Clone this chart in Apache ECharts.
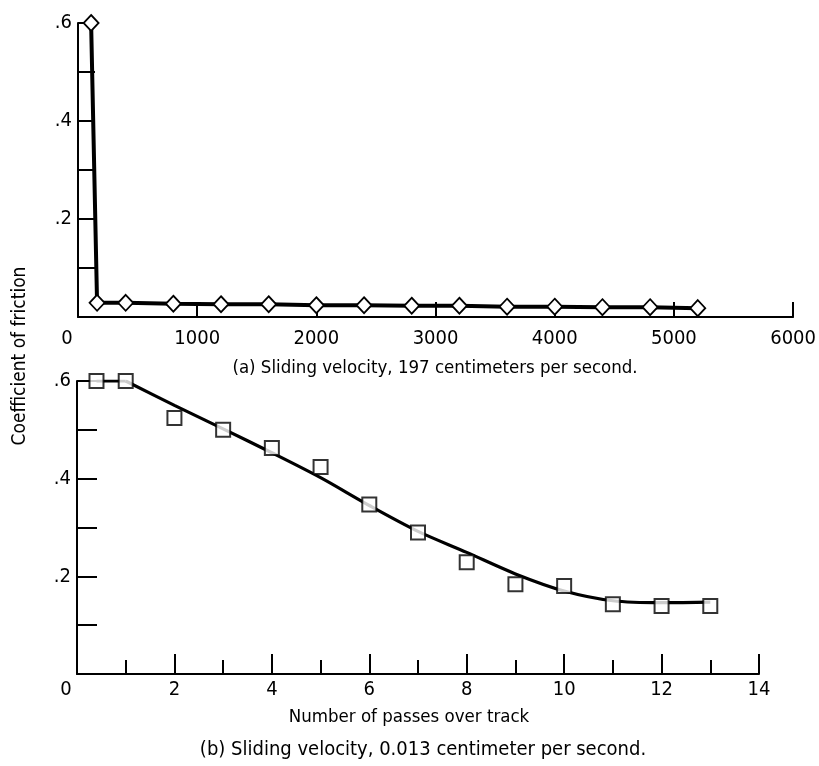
<!DOCTYPE html>
<html>
<head>
<meta charset="utf-8">
<script src="https://cdn.jsdelivr.net/npm/echarts@6/dist/echarts.min.js"></script>
<style>
  html, body { margin: 0; background: #fff; }
  #chart { width: 819px; height: 766px; }
</style>
</head>
<body>
<div id="chart"></div>
<script>
// (a) sliding velocity 197 cm/s
const speedX = [110, 160, 400, 800, 1200, 1600, 2000, 2400, 2800, 3200, 3600, 4000, 4400, 4800, 5200];
const speedMu = [0.6, 0.029, 0.029, 0.027, 0.026, 0.026, 0.024, 0.024, 0.023, 0.023, 0.021, 0.021, 0.02, 0.02, 0.018];

// (b) sliding velocity 0.013 cm/s, measured points
const passX = [0.4, 1, 2, 3, 4, 5, 6, 7, 8, 9, 10, 11, 12, 13];
const passMu = [0.6, 0.6, 0.524, 0.5, 0.463, 0.424, 0.347, 0.29, 0.229, 0.184, 0.18, 0.143, 0.139, 0.139];
// faired curve: flat start, then the smooth fall
const flatX = [0.4, 1];
const flatMu = [0.6, 0.6];
const fitX = [1, 2, 3, 4, 5, 6, 7, 8, 9, 10, 11, 12, 13];
const fitMu = [0.6, 0.55, 0.502, 0.453, 0.402, 0.345, 0.292, 0.249, 0.205, 0.17, 0.15, 0.146, 0.147];

const muLabels = ["", "", ".2", "", ".4", "", ".6"];

const FONT = '"Liberation Sans Narrow", "DejaVu Sans Condensed", "Roboto Condensed", "Liberation Sans", sans-serif';
const INK = "#000";

const zip = (xs, ys) => xs.map((x, i) => [x, ys[i]]);

const xLabel = (margin) => ({
  color: INK, fontFamily: FONT, fontSize: 20, margin,
  formatter: (v) => (v === 0 ? "{z|0}" : String(v)),
  rich: { z: { color: INK, fontFamily: FONT, fontSize: 20, padding: [0, 22, 0, 0] } },
});

const yAxis = (idx, tickLen) => ({
  type: "value", gridIndex: idx, min: 0, max: 0.6, interval: 0.1,
  axisLine: { show: true, lineStyle: { color: INK, width: 2 } },
  axisTick: { show: true, inside: true, length: tickLen, lineStyle: { color: INK, width: 2 } },
  splitLine: { show: false },
  axisLabel: {
    color: INK, fontFamily: FONT, fontSize: 20, margin: 6,
    formatter: (v) => muLabels[Math.round(v * 10)] || "",
  },
});

const fitLine = (data, smooth) => ({
  type: "line", xAxisIndex: 1, yAxisIndex: 1,
  data, smooth, showSymbol: false,
  lineStyle: { color: INK, width: 3.2 },
  z: 2,
});

const chart = echarts.init(document.getElementById("chart"));
chart.setOption({
  animation: false,
  backgroundColor: "#fff",
  grid: [
    { left: 78, right: 21, top: 23, bottom: 449 },
    { left: 77, right: 60, top: 381, bottom: 92 },
  ],
  xAxis: [
    {
      type: "value", gridIndex: 0, min: 0, max: 6000, interval: 1000,
      axisLine: { lineStyle: { color: INK, width: 2 } },
      axisTick: { inside: true, length: 15, lineStyle: { color: INK, width: 2 } },
      splitLine: { show: false },
      axisLabel: xLabel(12),
    },
    {
      type: "value", gridIndex: 1, min: 0, max: 14, interval: 2,
      axisLine: { lineStyle: { color: INK, width: 2 } },
      axisTick: { inside: true, length: 20, lineStyle: { color: INK, width: 2 } },
      minorTick: { show: true, splitNumber: 2, length: 14, lineStyle: { color: INK, width: 2 } },
      splitLine: { show: false },
      axisLabel: xLabel(6),
      name: "Number of passes over track",
      nameLocation: "middle",
      nameGap: 34,
      nameTextStyle: { color: INK, fontFamily: FONT, fontSize: 18.5, padding: [0, 18, 0, 0] },
    },
  ],
  yAxis: [yAxis(0, 17), yAxis(1, 20)],
  series: [
    {
      type: "line", xAxisIndex: 0, yAxisIndex: 0,
      data: zip(speedX, speedMu),
      lineStyle: { color: INK, width: 4 },
      symbol: "diamond", symbolSize: [15, 16],
      itemStyle: { color: "#fff", borderColor: INK, borderWidth: 1.8 },
      z: 3,
    },
    fitLine(zip(flatX, flatMu), false),
    fitLine(zip(fitX, fitMu), 0.3),
    {
      type: "scatter", xAxisIndex: 1, yAxisIndex: 1,
      data: zip(passX, passMu),
      symbol: "rect", symbolSize: 14,
      itemStyle: { color: "#fff", borderColor: INK, borderWidth: 2 },
      z: 4,
    },
  ],
  graphic: [
    {
      type: "text", x: 435, y: 368,
      style: { text: "(a) Sliding velocity, 197 centimeters per second.", fill: INK, font: "18.5px " + FONT, textAlign: "center", textVerticalAlign: "middle" },
    },
    {
      type: "text", x: 423, y: 750,
      style: { text: "(b) Sliding velocity, 0.013 centimeter per second.", fill: INK, font: "20px " + FONT, textAlign: "center", textVerticalAlign: "middle" },
    },
    {
      type: "text", x: 20, y: 356, rotation: Math.PI / 2,
      style: { text: "Coefficient of friction", fill: INK, font: "19px " + FONT, textAlign: "center", textVerticalAlign: "middle" },
    },
  ],
});
</script>
</body>
</html>
